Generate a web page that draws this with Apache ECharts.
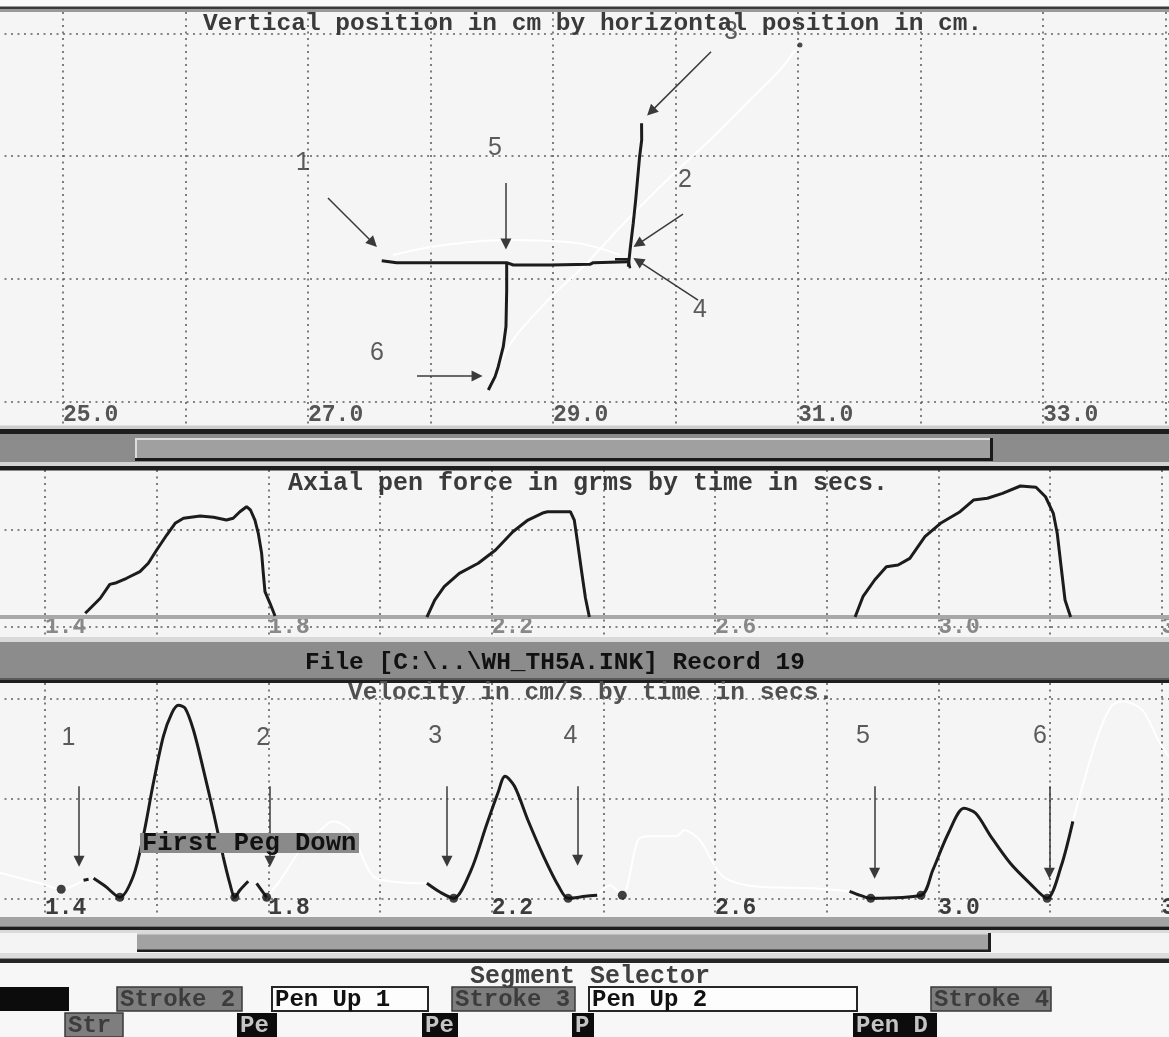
<!DOCTYPE html>
<html><head><meta charset="utf-8">
<script src="https://cdn.jsdelivr.net/npm/echarts@6/dist/echarts.min.js"></script>
<style>html,body{margin:0;padding:0;background:#f5f5f5;}#c{width:1169px;height:1037px;}</style>
</head><body><div id="c"></div>
<script>
// ---------------- data ----------------
const posTickLabels = [25, 27, 29, 31, 33];
const timeTickLabels = [1.4, 1.8, 2.2, 2.6, 3.0, 3.4];

// pen trajectory (cm)
const trajStrokeA = [[27.602,1.148],[27.724,1.132],[28.010,1.132],[28.622,1.132],[28.676,1.113],[28.976,1.113],[29.302,1.119],[29.329,1.132],[29.615,1.140]];
const trajStrokeB = [[29.723,2.267],[29.724,2.131],[29.707,1.995],[29.675,1.643],[29.655,1.453],[29.629,1.235],[29.615,1.099]];
const trajHook = [[29.506,1.160],[29.615,1.160],[29.629,1.086]];
const trajStrokeC = [[28.622,1.127],[28.622,0.910],[28.616,0.611],[28.594,0.448],[28.553,0.285],[28.527,0.204],[28.472,0.095]];
const trajPenUp1 = [[27.694,1.195],[28.053,1.268],[28.592,1.317],[29.196,1.292],[29.547,1.195]];
const trajPenUp2 = [[28.486,0.136],[28.673,0.502],[28.976,0.844],[29.245,1.097],[29.588,1.463],[29.931,1.806],[30.282,2.131],[30.608,2.457],[30.853,2.701],[30.976,2.864]];
const trajDot = [[31.016,2.905]];
const posArrows = [
  [[27.163,1.659],[27.531,1.292]],
  [[28.616,1.781],[28.616,1.284]],
  [[30.061,1.528],[29.694,1.284]],
  [[30.184,0.828],[29.694,1.146]],
  [[27.890,0.209],[28.380,0.209]],
  [[30.290,2.850],[29.800,2.362]]
];
const posMarkerNames = ['1','5','2','4','6','3'];
const posMarkerXY = [[26.959,1.944],[28.527,2.066],[30.078,1.806],[30.200,0.747],[27.563,0.396],[30.453,3.010]];

// axial pen force (grams) by time (s)
const force1 = [[1.472,13.9],[1.478,17.3],[1.499,29.4],[1.516,43.8],[1.528,45.5],[1.546,50.1],[1.570,56.9],[1.585,65.6],[1.600,79.3],[1.618,94.8],[1.633,106.9],[1.648,112.1],[1.678,114.5],[1.702,113.1],[1.725,110.3],[1.737,112.1],[1.749,118.9],[1.761,124.1],[1.768,120.7],[1.776,110.3],[1.782,96.6],[1.788,75.9],[1.791,55.2],[1.794,36.2],[1.803,24.2],[1.812,11.1]];
const force2 = [[2.084,10],[2.098,27.6],[2.115,41.4],[2.142,55.2],[2.176,65.6],[2.207,79.3],[2.238,98.2],[2.265,110.3],[2.293,117.9],[2.300,118.9],[2.322,118.9],[2.341,118.9],[2.348,110.3],[2.354,86.6],[2.361,57.6],[2.368,29.7],[2.375,10]];
const force3 = [[2.851,10],[2.865,31.0],[2.886,48.3],[2.907,62.0],[2.928,63.8],[2.949,70.7],[2.976,93.1],[3.004,106.9],[3.039,118.9],[3.063,131.0],[3.088,132.8],[3.115,137.9],[3.147,145.5],[3.175,144.2],[3.192,134.4],[3.206,117.3],[3.213,96.6],[3.220,62.0],[3.227,27.6],[3.237,10]];
const forceThreshold = 10;

// velocity (cm/s) by time (s)
const velDash1 = [[1.469,1.8],[1.478,1.9]];
const velSeg1 = [[1.487,2.0],[1.508,1.2],[1.534,0.1],[1.558,2.2],[1.576,6.2],[1.594,11.5],[1.612,16.2],[1.627,18.5],[1.639,19.3],[1.651,19.0],[1.666,16.8],[1.684,12.8],[1.702,8.5],[1.719,4.2],[1.731,1.5],[1.740,0.1],[1.749,0.8],[1.764,1.7]];
const velSeg1b = [[1.779,1.5],[1.797,0.1]];
const velSeg2 = [[2.084,1.5],[2.108,0.6],[2.132,0],[2.163,2.8],[2.190,7.2],[2.211,10.5],[2.224,12.2],[2.241,11.2],[2.265,7.8],[2.293,4.2],[2.320,1.2],[2.337,0],[2.368,0.2],[2.389,0.3]];
const velSeg3 = [[2.841,0.7],[2.860,0.3],[2.879,0],[2.969,0.3],[2.990,2.8],[3.018,6.5],[3.046,9.0],[3.067,8.5],[3.094,6.2],[3.129,3.5],[3.164,1.5],[3.195,0],[3.220,3.2],[3.241,7.7]];
const velDots = [[1.429,0.9],[1.534,0.1],[1.740,0.1],[1.797,0.1],[2.132,0],[2.337,0],[2.434,0.3],[2.879,0],[2.969,0.3],[3.195,0]];
const velPenUp1 = [[1.3158,2.6],[1.391,1.5],[1.429,0.9],[1.469,1.8]];
const velPenUp2 = [[1.797,0.1],[1.821,1.8],[1.857,4.8],[1.893,6.8],[1.916,7.7],[1.946,6.8],[1.988,2.2],[2.036,1.6],[2.084,1.5]];
const velPenUp3 = [[2.389,0.3],[2.412,1.3],[2.434,0.3],[2.462,5.8],[2.482,6.2],[2.531,6.2],[2.545,6.8],[2.573,5.8],[2.614,2.2],[2.670,1.2],[2.775,1.0],[2.841,0.7]];
const velPenUp4 = [[3.241,7.7],[3.283,15.8],[3.310,19.2],[3.331,19.7],[3.366,18.8],[3.394,15.8],[3.417,13.8]];
const velArrows = [
  [[1.461,11.2],[1.461,3.7]],
  [[1.803,11.2],[1.803,3.7]],
  [[2.120,11.2],[2.120,3.7]],
  [[2.354,11.2],[2.354,3.8]],
  [[2.886,11.2],[2.886,2.5]],
  [[3.199,11.2],[3.199,2.5]]
];
const velMarkerNames = ['1','2','3','4','5','6'];
const velMarkerXY = [[1.442,16.0],[1.791,16.0],[2.099,16.2],[2.341,16.2],[2.865,16.2],[3.182,16.2]];

// ---------------- styles ----------------
const MONO = '"Liberation Mono", "DejaVu Sans Mono", monospace';
const SANS = '"Liberation Sans", Arial, sans-serif';
const dotted = {color:'#606060', width:1.6, type:[2,4.5]};
const inkW = 3, ink = '#1c1c1c';

function xAx(grid, min, max, labels, color, margin) {
  return {
    gridIndex: grid, type:'value', min:min, max:max, splitNumber:10,
    axisLine:{show:false, onZero:false},
    axisTick:{show:false},
    splitLine:{show:true, lineStyle:dotted, showMinLine:false, showMaxLine:false},
    axisLabel:{show:true, showMinLabel:false, showMaxLabel:false, align:'left', verticalAlign:'top', lineHeight:24, margin:margin,
      fontFamily:MONO, fontWeight:'bold', fontSize:23, color:color,
      formatter: v => labels.some(l => Math.abs(l - v) < 1e-6) ? v.toFixed(1) : ''}
  };
}
function yAx(grid, min, max, split) {
  return {
    gridIndex: grid, type:'value', min:min, max:max, splitNumber:split,
    axisLine:{show:false}, axisTick:{show:false}, axisLabel:{show:false},
    splitLine:{show:true, lineStyle:dotted, showMinLine:false, showMaxLine:false}
  };
}
function inkLine(g, data, opts) {
  return Object.assign({type:'line', xAxisIndex:g, yAxisIndex:g, data:data, showSymbol:false, symbol:'none',
    lineStyle:{color:ink, width:inkW}, silent:true, z:3}, opts || {});
}
function whiteLine(g, data) {
  return {type:'line', xAxisIndex:g, yAxisIndex:g, data:data, showSymbol:false, symbol:'none', smooth:0.3,
    lineStyle:{color:'#ffffff', width:2}, silent:true, z:2};
}
function arrowSeries(g, arr) {
  return {type:'lines', coordinateSystem:'cartesian2d', xAxisIndex:g, yAxisIndex:g, silent:true, z:4,
    symbol:['none','triangle'], symbolSize:11,
    lineStyle:{color:'#3a3a3a', width:1.5, opacity:1, curveness:0},
    data: arr.map(c => ({coords:c}))};
}
function markerSeries(g, names, xy) {
  return {type:'scatter', xAxisIndex:g, yAxisIndex:g, silent:true, z:5, symbolSize:1,
    itemStyle:{color:'rgba(0,0,0,0)'},
    label:{show:true, position:'inside', formatter:'{b}', fontFamily:SANS, fontSize:25, color:'#333333'},
    data: names.map((n,i) => ({name:n, value:xy[i]}))};
}

// ---------------- chrome ----------------
const G = [];
function rect(x,y,w,h,fill,stroke,lw){ G.push({type:'rect', z:50, silent:true, shape:{x:x,y:y,width:w,height:h}, style:{fill:fill, stroke:stroke||null, lineWidth:lw||0}}); }
function text(x,y,t,fill,z,size){ G.push({type:'text', z:z||60, silent:true, x:x, y:y, style:{text:t, fill:fill, font:'bold ' + (size||24) + 'px ' + MONO, align:'left', verticalAlign:'middle'}}); }

rect(0,0,1169,6.5,'#fafafa');
rect(0,6.5,1169,3,'#3a3a3a');
rect(0,9.5,1169,2.5,'#9a9a9a');
// band between position and force panels (scrollbar)
rect(0,425.5,1169,3.5,'#cdcdcd');
rect(0,429,1169,5,'#1e1e1e');
rect(0,434,1169,28,'#8c8c8c');
rect(135,438,858,23,'#a0a0a0');
rect(135,438,858,2,'#dcdcdc');
rect(135,438,2,23,'#dcdcdc');
rect(135,458,858,3,'#1a1a1a');
rect(990,438,3,23,'#1a1a1a');
rect(0,462,1169,4,'#d4d4d4');
rect(0,466,1169,4.5,'#1e1e1e');
// file bar
rect(0,637,1169,5,'#d9d9d9');
rect(0,642,1169,36,'#8c8c8c');
rect(0,678,1169,2,'#5a5a5a');
rect(0,680,1169,3,'#1e1e1e');
// bottom scrollbar
rect(0,917,1169,9.5,'#a3a3a3');
rect(0,926.5,1169,3.5,'#1e1e1e');
rect(0,930,1169,3,'#dadada');
rect(0,933,1169,20,'#f4f4f4');
rect(137,933,854,19,'#a2a2a2');
rect(137,933,854,1.5,'#d8d8d8');
rect(137,949.5,854,2.5,'#1e1e1e');
rect(988,933,3,19,'#1e1e1e');
rect(0,953,1169,5.5,'#dcdcdc');
rect(0,958.5,1169,4.5,'#262626');
rect(0,963,1169,74,'#f7f7f7');

// segment selector buttons
const segRow1 = [
  {x:0,w:69,t:'',kind:'black'},
  {x:117,w:125,t:'Stroke 2',kind:'gray'},
  {x:272,w:156,t:'Pen Up 1',kind:'white'},
  {x:452,w:123,t:'Stroke 3',kind:'gray'},
  {x:589,w:268,t:'Pen Up 2',kind:'white'},
  {x:931,w:120,t:'Stroke 4',kind:'gray'}
];
const segRow2 = [
  {x:65,w:58,t:'Str',kind:'gray'},
  {x:237,w:40,t:'Pe',kind:'black'},
  {x:422,w:36,t:'Pe',kind:'black'},
  {x:572,w:22,t:'P',kind:'black'},
  {x:853,w:84,t:'Pen D',kind:'black'}
];
function buttons(row, y) {
  row.forEach(b => {
    if (b.kind === 'black') rect(b.x,y,b.w,24,'#0c0c0c');
    else if (b.kind === 'gray') rect(b.x,y,b.w,24,'#7e7e7e','#3a3a3a',1.5);
    else rect(b.x,y,b.w,24,'#fdfdfd','#262626',2);
    if (b.t) text(b.x+3, y+12.5, b.t, b.kind==='black' ? '#c4c4c4' : (b.kind==='gray' ? '#3c3c3c' : '#111'));
  });
}
buttons(segRow1, 987);
buttons(segRow2, 1013);

// titles
text(203, 24, 'Vertical position in cm by horizontal position in cm.', '#3a3a3a', 60, 24.5);
text(288, 484, 'Axial pen force in grms by time in secs.', '#3a3a3a', 60, 25);
text(305, 663, 'File [C:\\..\\WH_TH5A.INK] Record 19', '#111', 60, 24.5);
text(348, 693, 'Velocity in cm/s by time in secs.', '#505050', 60, 24.5);
text(470, 977, 'Segment Selector', '#404040', 60, 25);
// "First Peg Down" tag
G.push({type:'rect', z:10, silent:true, shape:{x:140,y:833,width:219,height:20}, style:{fill:'#8a8a8a'}});
text(142, 844, 'First Peg Down', '#111', 11, 25.5);

// ---------------- chart ----------------
const chart = echarts.init(document.getElementById('c'), null, {renderer:'canvas'});
chart.setOption({
  backgroundColor:'#f5f5f5',
  animation:false,
  grid:[
    {left:-2, width:1173, top:12, height:413.5, containLabel:false, outerBoundsMode:'none'},
    {left:-2, width:1173, top:470, height:167, containLabel:false, outerBoundsMode:'none'},
    {left:-2, width:1173, top:683, height:234, containLabel:false, outerBoundsMode:'none'}
  ],
  xAxis:[
    xAx(0, 24.4694, 34.0449, posTickLabels, '#555555', -22.5),
    xAx(1, 1.3158, 3.4168, timeTickLabels, '#888888', -21.3),
    xAx(2, 1.3158, 3.4168, timeTickLabels, '#3c3c3c', -21)
  ],
  yAxis:[
    yAx(0, -0.1938, 3.1734, 3),
    yAx(1, -10.65, 162.05, 2),
    yAx(2, -1.87, 21.53, 2)
  ],
  series:[
    // position panel
    whiteLine(0, trajPenUp1),
    whiteLine(0, trajPenUp2),
    inkLine(0, trajStrokeA),
    inkLine(0, trajStrokeB),
    inkLine(0, trajHook, {lineStyle:{color:ink, width:2.5}}),
    inkLine(0, trajStrokeC),
    {type:'scatter', xAxisIndex:0, yAxisIndex:0, data:trajDot, symbolSize:5, itemStyle:{color:'#222'}, silent:true, z:4},
    arrowSeries(0, posArrows),
    markerSeries(0, posMarkerNames, posMarkerXY),
    // force panel
    inkLine(1, force1, {markLine:{silent:true, symbol:'none', label:{show:false},
      lineStyle:{color:'#a8a8a8', width:4, type:'solid'}, data:[{yAxis:forceThreshold}], z:2}}),
    inkLine(1, force2),
    inkLine(1, force3),
    // velocity panel
    whiteLine(2, velPenUp1),
    whiteLine(2, velPenUp2),
    whiteLine(2, velPenUp3),
    whiteLine(2, velPenUp4),
    inkLine(2, velDash1),
    inkLine(2, velSeg1, {smooth:0.3}),
    inkLine(2, velSeg1b),
    inkLine(2, velSeg2, {smooth:0.3}),
    inkLine(2, velSeg3, {smooth:0.3}),
    {type:'scatter', xAxisIndex:2, yAxisIndex:2, data:velDots, symbolSize:9, itemStyle:{color:'#111'}, silent:true, z:4},
    arrowSeries(2, velArrows),
    markerSeries(2, velMarkerNames, velMarkerXY)
  ],
  graphic: G
});
</script></body></html>
